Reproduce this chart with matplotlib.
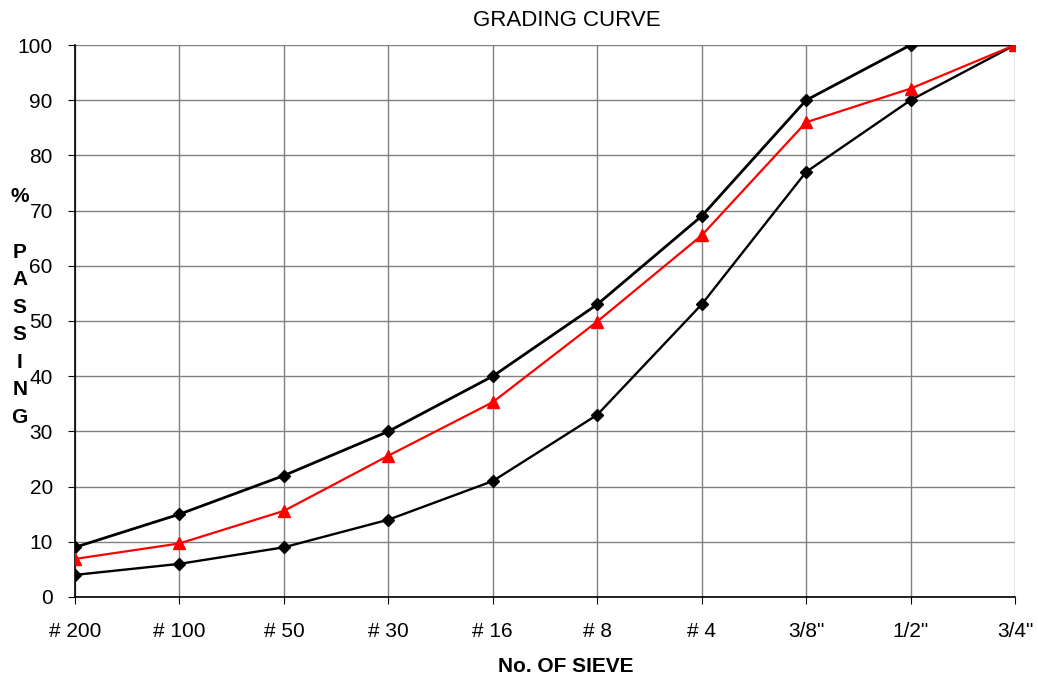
import matplotlib
matplotlib.use("Agg")
import matplotlib.pyplot as plt

plt.rcParams['font.family'] = ['Liberation Sans', 'DejaVu Sans']

sieves = ['# 200', '# 100', '# 50', '# 30', '# 16', '# 8', '# 4', '3/8"', '1/2"', '3/4"']
upper_limit = [9, 15, 22, 30, 40, 53, 69, 90, 100, 100]
lower_limit = [4, 6, 9, 14, 21, 33, 53, 77, 90, 100]
passing = [6.9, 9.7, 15.6, 25.6, 35.3, 49.9, 65.5, 86.0, 92.1, 100]
y_ticks = [0, 10, 20, 30, 40, 50, 60, 70, 80, 90, 100]


def main():
    fig = plt.figure(figsize=(10.38, 6.79), dpi=100)
    ax = fig.add_axes([0.0723, 0.1208, 0.9055, 0.8129])

    x = list(range(len(sieves)))
    ax.plot(x, upper_limit, color='black', lw=2.0, marker='D', ms=6.5, zorder=3)
    ax.plot(x, lower_limit, color='black', lw=1.7, marker='D', ms=6.5, zorder=3)
    ax.plot(x, passing, color='red', lw=1.6, marker='^', ms=8, zorder=4)

    ax.set_xlim(0, len(sieves) - 1)
    ax.set_ylim(0, 100)
    ax.set_xticks(x)
    ax.set_xticklabels(sieves, fontsize=15)
    ax.set_yticks(y_ticks)
    ax.set_yticklabels([str(v) for v in y_ticks], fontsize=15)
    ax.tick_params(axis='x', length=5, pad=13, color='black')
    ax.tick_params(axis='y', length=5, pad=11, color='black')

    ax.grid(True, color='#808080', lw=1)
    ax.set_axisbelow(True)
    for side in ['top', 'right']:
        ax.spines[side].set_visible(False)
    ax.spines['left'].set_linewidth(1.2)
    ax.spines['bottom'].set_linewidth(1.2)

    fig.text(0.546, 0.9705, 'GRADING CURVE', ha='center', va='center', fontsize=16)
    fig.text(0.545, 0.018, 'No. OF SIEVE', ha='center', va='center',
             fontsize=15, fontweight='bold')
    fig.text(0.019, 0.724, '%\n\nP\nA\nS\nS\nI\nN\nG', ha='center', va='top',
             fontsize=15, fontweight='bold', linespacing=1.57)

    plt.savefig('out.png')


if __name__ == "__main__":
    main()
